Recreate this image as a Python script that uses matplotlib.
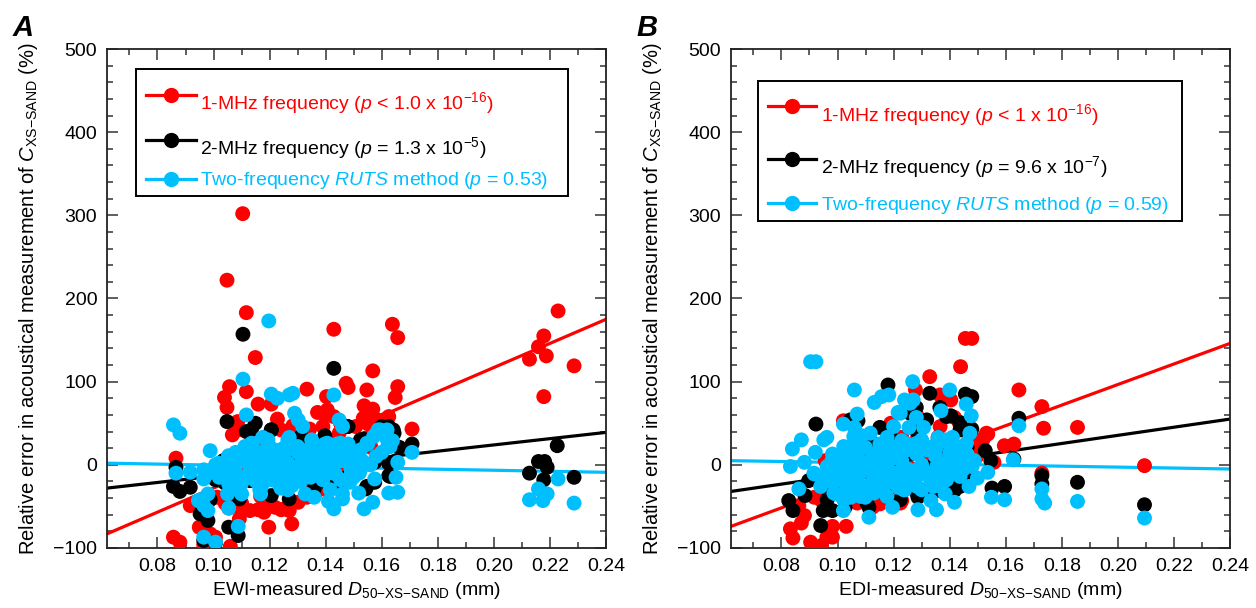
import matplotlib
matplotlib.use('Agg')
import matplotlib.pyplot as plt
from matplotlib.lines import Line2D
from matplotlib.patches import Rectangle
from matplotlib.ticker import MultipleLocator, FixedLocator

plt.rcParams['font.family'] = ['Liberation Sans', 'DejaVu Sans']
plt.rcParams['mathtext.fontset'] = 'custom'
plt.rcParams['mathtext.rm'] = 'Liberation Sans'
plt.rcParams['mathtext.it'] = 'Liberation Sans:italic'
plt.rcParams['mathtext.bf'] = 'Liberation Sans:bold'

#----- panel A : EWI-measured D50 (mm) vs relative error (%)
a_red_d = [0.1048, 0.1104, 0.1117, 0.1149, 0.1429, 0.1638, 0.1657, 0.1568,
           0.2127, 0.2159, 0.2178, 0.2187, 0.2229, 0.2178, 0.2286,
           0.0866, 0.0857, 0.0880, 0.0917, 0.0949, 0.0965, 0.0988, 0.1007, 0.1013,
           0.1060, 0.1054, 0.1092, 0.1098,
           0.1039, 0.1057, 0.1048, 0.1117, 0.1159, 0.1206, 0.1228, 0.1197, 0.1279,
           0.1333, 0.1403, 0.1371, 0.1397, 0.1473, 0.1480, 0.1547, 0.1537, 0.1568,
           0.1534, 0.1575, 0.1657, 0.1648, 0.1625, 0.1708, 0.1343, 0.1283, 0.1390,
           0.1507, 0.1448, 0.1086, 0.1067, 0.1117, 0.1172,
           0.1168, 0.1194, 0.1219, 0.1251, 0.1270, 0.1180, 0.1130, 0.1302, 0.1333,
           0.1346, 0.1384, 0.1435, 0.1486, 0.1549, 0.1600, 0.1606, 0.1562, 0.1524,
           0.1050, 0.1080, 0.1120, 0.1250, 0.1300, 0.1280, 0.1350, 0.1400, 0.1450,
           0.1500, 0.1180, 0.1230,
           0.1088, 0.1241, 0.1406, 0.1453, 0.1547, 0.1100, 0.1159, 0.1241, 0.1041,
           0.1359, 0.1429]
a_red_v = [222, 302, 183, 129, 163, 169, 153, 113,
           127, 142, 155, 131, 185, 82, 119,
           8, -87, -93, -49, -75, -96, -83, -87, -39,
           -98, -52, -65, -54,
           81, 94, 69, 88, 73, 73, 55, -75, -71,
           91, 82, 63, 60, 98, 93, 90, 71, 67,
           56, 56, 94, 81, 58, 43, 43, 47, 46,
           46, 38, 52, 36, 21, 19,
           -38, -49, -51, -53, -55, -57, -55, -45, -39,
           -19, -11, 13, 21, 33, 38, 54, 21, 29,
           -20, -30, -10, -20, -10, 10, 5, -30, -5,
           10, 30, 0,
           42, 42, 66, 50, 50, -46, -54, -54, -46,
           -38, 58]

a_blk_d = [0.1105, 0.1429, 0.2127, 0.2159, 0.2181, 0.2190, 0.2178, 0.2226, 0.2286,
           0.0866, 0.0857, 0.0880, 0.0917, 0.0952, 0.0980, 0.0988, 0.1007, 0.0965,
           0.1007, 0.1054, 0.1088,
           0.1048, 0.1117, 0.1149, 0.1206, 0.1314, 0.1397, 0.1480, 0.1534, 0.1600,
           0.1625, 0.1644, 0.1708, 0.1663, 0.1651, 0.1575, 0.1625, 0.1543, 0.1575,
           0.1473, 0.1448, 0.1410, 0.1359, 0.1270, 0.1206, 0.1092, 0.1035, 0.1270,
           0.1232, 0.1346, 0.1295, 0.1168, 0.1130, 0.1067,
           0.1041, 0.1135, 0.1206, 0.1312, 0.1476, 0.1524, 0.1641, 0.1406, 0.1453,
           0.1547, 0.1630, 0.1624]
a_blk_v = [157, 116, -10, 4, 4, -3, -18, 23, -15,
           -3, -26, -32, -27, -59, -67, -42, -18, -91,
           -94, -75, -85,
           52, 40, 50, 42, 33, 35, 46, 31, 46,
           46, 38, 25, 21, 5, 3, -13, -29, -21,
           -15, -23, -19, -29, -41, -37, -41, 5, 9,
           13, 21, 5, -11, -19, -23,
           -22, 42, 42, 34, 46, 30, 42, -22, -30,
           -26, -14, 2]

a_cyn_d = [0.1197, 0.1429, 0.2127, 0.2159, 0.2178, 0.2190, 0.2175, 0.2229, 0.2286,
           0.0857, 0.0880, 0.0866, 0.0917, 0.0965, 0.0965, 0.0988, 0.1007, 0.0946,
           0.0965, 0.0980, 0.0980, 0.0965, 0.1007, 0.1054, 0.1088,
           0.1105, 0.1117, 0.1206, 0.1228, 0.1270, 0.1283, 0.1289, 0.1302, 0.1318,
           0.1448, 0.1460, 0.1441, 0.1480, 0.1397, 0.1346, 0.1370, 0.1422, 0.1587,
           0.1619, 0.1638, 0.1620, 0.1708, 0.1657, 0.1651, 0.1625, 0.1657, 0.1575,
           0.1568, 0.1537, 0.1518, 0.1460, 0.1460, 0.1429, 0.1410, 0.1416, 0.1359,
           0.1327, 0.1486, 0.1499, 0.1435, 0.1384, 0.1219, 0.1168, 0.1149, 0.1092,
           0.1054, 0.1035, 0.1054, 0.1079, 0.1092, 0.1117, 0.1149, 0.1175, 0.1194,
           0.1232, 0.1251, 0.1270, 0.1302, 0.1270, 0.1244, 0.1346, 0.1397, 0.1346,
           0.1180, 0.1130, 0.1250, 0.1320, 0.1080, 0.1150, 0.1200, 0.1280, 0.1350,
           0.1500, 0.1550, 0.1530, 0.1580, 0.1620,
           0.1053, 0.1076, 0.1100, 0.1124, 0.1147, 0.1171, 0.1194, 0.1218, 0.1241,
           0.1265, 0.1288, 0.1312, 0.1335, 0.1359, 0.1382, 0.1406, 0.1429, 0.1453,
           0.1476, 0.1500, 0.1524, 0.1547, 0.1571, 0.1594, 0.1618, 0.1630, 0.1065,
           0.1100, 0.1135, 0.1171, 0.1206, 0.1241, 0.1276, 0.1300, 0.1347, 0.1406,
           0.1453, 0.1488, 0.1524, 0.1041, 0.1018, 0.0982, 0.0953, 0.1165, 0.1265,
           0.1112, 0.1135, 0.1265, 0.1300, 0.1335, 0.1406,
           0.1080, 0.1120, 0.1180, 0.1210, 0.1240, 0.1280, 0.1310, 0.1340, 0.1370,
           0.1390, 0.1430, 0.1460, 0.1490, 0.1520, 0.1560, 0.1600, 0.1160, 0.1200,
           0.1250, 0.1300, 0.1400, 0.1450, 0.1020, 0.1050, 0.1100]
a_cyn_v = [173, 84, -42, -29, -35, -35, -43, -17, -46,
           48, 38, -10, -9, -6, -17, 17, 0, -43,
           -49, -35, -55, -87, -93, -52, -74,
           103, 60, 85, 80, 84, 86, 62, 54, 46,
           54, 46, 25, 25, 25, 21, 13, 13, 42,
           42, 29, 21, 15, 3, -15, -34, -33, -17,
           -45, -53, -34, -35, -41, -53, -44, -30, -39,
           -35, -21, -15, -11, 5, -19, -35, -19, -27,
           -23, -3, 11, 15, 5, 9, 17, 33, 25,
           13, 13, 33, -3, -15, -19, -3, 5, -15,
           -5, -5, 0, 10, -10, 0, 5, -5, 30,
           15, 25, 5, 10, 30,
           10, 2, 10, 2, -6, 2, 30, 18, 10,
           2, -10, 2, 10, 2, 14, 2, 10, 26,
           18, 10, 18, 26, 34, 42, 34, 22, -18,
           -22, -14, -26, -18, -14, -22, -14, -6, -10,
           -18, -14, -6, -6, 2, -10, -42, -30, -30,
           22, 26, 30, 22, 10, 26,
           -25, -15, -15, -5, -28, -25, -20, -10, -5,
           -18, 0, 5, -5, -10, 0, 15, 10, 20,
           20, 15, 20, 15, -15, -35, -35]

#----- panel B : EDI-measured D50 (mm) vs relative error (%)
b_red_d = [0.1456, 0.1479, 0.1439, 0.1329, 0.1278, 0.1365, 0.1404, 0.1647, 0.1729,
           0.1735, 0.1856, 0.1595, 0.1629, 0.1536, 0.1520, 0.1729, 0.2095, 0.1190,
           0.1021, 0.1281, 0.1417, 0.1436,
           0.0832, 0.0841, 0.0871, 0.0882, 0.0904, 0.0943, 0.0962, 0.0982, 0.0982,
           0.1031, 0.0862, 0.0917, 0.0956, 0.1060, 0.1125, 0.1151, 0.1229, 0.1177,
           0.1294, 0.1359, 0.1417, 0.1494, 0.1558, 0.1519, 0.1481, 0.1442, 0.1359,
           0.1281, 0.1229, 0.1177, 0.1125, 0.1099, 0.1034, 0.1060, 0.0995, 0.1151,
           0.1255, 0.1332,
           0.1022, 0.1283, 0.1366, 0.1437, 0.1496, 0.1531, 0.1070, 0.1141, 0.1224,
           0.0940, 0.1449, 0.1496]
b_red_v = [152, 152, 118, 106, 90, 84, 78, 90, 70,
           44, 45, 23, 25, 37, 31, -10, -1, 50,
           53, 61, 57, 49,
           -77, -88, -70, -61, -93, -97, -87, -87, -74,
           -74, -49, -39, 5, -39, -51, -47, -43, -23,
           -35, -31, -19, 9, 3, 17, 21, 5, -3,
           29, 33, 21, 25, -3, -11, -19, -27, -19,
           -3, 13,
           50, 42, 46, 50, 30, 38, -46, -42, -46,
           -42, -2, 10]

b_blk_d = [0.1180, 0.1329, 0.1456, 0.1479, 0.1365, 0.1404, 0.1436, 0.1281, 0.1479,
           0.1647, 0.0923, 0.1073, 0.1151, 0.1131, 0.1187, 0.1527, 0.1547, 0.1465,
           0.1551, 0.1596, 0.1629, 0.1729, 0.1729, 0.1856, 0.2095,
           0.0826, 0.0841, 0.0884, 0.0897, 0.0949, 0.0982, 0.0940, 0.1027, 0.1112,
           0.1177, 0.1287, 0.1345, 0.1391, 0.1417, 0.1436, 0.1229, 0.1047, 0.1099,
           0.1255, 0.1332, 0.1384, 0.1462, 0.1281, 0.1359, 0.0995, 0.0969, 0.1125,
           0.1046, 0.0963, 0.1046, 0.1105, 0.1224, 0.1283, 0.1342, 0.1437, 0.1472,
           0.1176, 0.1259, 0.1318, 0.1389, 0.1437]
b_blk_v = [96, 86, 85, 82, 69, 59, 51, 69, 43,
           56, 49, 53, 45, 25, 35, 17, 5, -13,
           -28, -26, 7, -13, -23, -21, -48,
           -43, -55, -37, -19, -55, -55, -73, -51, -51,
           -35, -39, -31, -19, -31, -11, -19, -3, 9,
           13, -3, 13, 21, 41, 33, -7, -27, -19,
           54, -42, -38, -46, -42, -34, -30, -26, -10,
           30, 62, 54, 58, 42]

b_cyn_d = [0.0904, 0.0923, 0.1060, 0.1268, 0.1400, 0.1131, 0.1157, 0.1183, 0.1239,
           0.1270, 0.1070, 0.1021, 0.1216, 0.1281, 0.1369, 0.1459, 0.1477, 0.1647,
           0.1627,
           0.0839, 0.0871, 0.0832, 0.0882, 0.0921, 0.0962, 0.0982, 0.0862, 0.0917,
           0.1549, 0.1596, 0.1536, 0.1499, 0.1469, 0.1729, 0.1729, 0.1739, 0.1856,
           0.2095,
           0.1021, 0.1112, 0.1196, 0.1287, 0.1353, 0.1333, 0.1417, 0.1384,
           0.1060, 0.1086, 0.1047,
           0.1125, 0.1151, 0.1177, 0.1229, 0.1281, 0.1332, 0.1359, 0.1384, 0.1410,
           0.1436, 0.1462, 0.1488, 0.1229, 0.1203, 0.1177, 0.1255, 0.1307, 0.1164,
           0.1216, 0.1255, 0.1294, 0.1332, 0.1359, 0.1125, 0.1073, 0.1021, 0.0995,
           0.0969, 0.1047, 0.1099, 0.0943, 0.1125, 0.1073, 0.1021, 0.1099, 0.1151,
           0.1371, 0.1200, 0.1250, 0.1300, 0.1350, 0.1400, 0.1450, 0.1180, 0.1080,
           0.0963, 0.0999, 0.1034, 0.1070, 0.1105, 0.1141, 0.1176, 0.1212, 0.1247,
           0.1283, 0.1318, 0.1354, 0.1389, 0.1425, 0.1460, 0.0999, 0.1034, 0.1070,
           0.1105, 0.1141, 0.1176, 0.1212, 0.1247, 0.1283, 0.1318, 0.1354, 0.1389,
           0.1425, 0.0987, 0.1022, 0.1082, 0.1129, 0.1176, 0.1236, 0.1283, 0.1342,
           0.1389, 0.1437, 0.0940, 0.0916, 0.1058, 0.1117, 0.1200, 0.1224, 0.1259,
           0.1082, 0.1022, 0.0951, 0.1472, 0.1460, 0.1437,
           0.1000, 0.1040, 0.1080, 0.1130, 0.1170, 0.1200, 0.1240, 0.1280, 0.1320,
           0.1360, 0.1400, 0.1440, 0.1480, 0.1150, 0.1200, 0.1250, 0.1300, 0.1350,
           0.1400, 0.1450, 0.1050, 0.1100, 0.1150, 0.1300, 0.1350, 0.0980, 0.1030,
           0.1080]
b_cyn_v = [124, 124, 90, 100, 90, 75, 82, 84, 78,
           78, 61, 49, 63, 57, 65, 73, 59, 47,
           6,
           19, 30, -2, 3, 15, 33, 13, -29, -11,
           -39, -42, -9, -16, -26, -29, -41, -46, -44,
           -64,
           -55, -63, -51, -54, -54, -43, -45, -35,
           45, 35, 21,
           13, 5, -3, 5, 13, 21, 33, 29, 33,
           21, 13, 5, 29, 21, 33, 45, 45, -19,
           -27, -19, -11, -19, -3, -19, -27, -19, -35,
           -19, -39, -39, -15, -3, -3, -3, 21, 25,
           -23, -10, -5, 0, 10, 5, -5, 10, 5,
           -2, 6, -2, 10, 2, 10, 18, 10, 18,
           26, 18, 26, 30, 22, 26, -18, -26, -18,
           -26, -14, -22, -10, -18, -6, -10, -2, 2,
           6, -34, -42, -38, -34, -38, -30, -26, -26,
           -18, -14, -26, -10, 34, 38, 46, 62, 74,
           22, 22, 30, 38, 10, -2,
           -10, -10, -10, -10, -12, -20, -30, -15, -10,
           -12, -10, -5, -2, 15, 15, 25, 30, 20,
           15, 15, -30, -30, -28, -30, -25, 5, 10,
           20]

# regression lines, value at left edge / right edge of the x range
x_lo, x_hi = 0.062, 0.24
a_fit_lo = [-83, -28, 2]
a_fit_hi = [175, 39, -9]
b_fit_lo = [-74, -32, 5]
b_fit_hi = [146, 55, -5]

a_labels = [r'1-MHz frequency ($\it{p}$ < 1.0 x 10$^{-16}$)',
            r'2-MHz frequency ($\it{p}$ = 1.3 x 10$^{-5}$)',
            r'Two-frequency $\it{RUTS}$ method ($\it{p}$ = 0.53)']
b_labels = [r'1-MHz frequency ($\it{p}$ < 1 x 10$^{-16}$)',
            r'2-MHz frequency ($\it{p}$ = 9.6 x 10$^{-7}$)',
            r'Two-frequency $\it{RUTS}$ method ($\it{p}$ = 0.59)']

colors = ['#ff0000', '#000000', '#00bfff']


def key_box(ax, labels, box, y_line, y_text, hx, tx):
    # hand-placed legend box (axes fraction)
    ax.add_patch(Rectangle((box[0], box[1]), box[2] - box[0], box[3] - box[1],
                           transform=ax.transAxes, facecolor='white',
                           edgecolor='black', lw=1.4, zorder=5))
    for c, lab, yl, yt in zip(colors, labels, y_line, y_text):
        ax.add_line(Line2D([hx[0], hx[1], hx[2]], [yl, yl, yl],
                           transform=ax.transAxes, color=c, lw=2.3,
                           marker='o', markevery=[1], markersize=10, zorder=6))
        ax.text(tx, yt, lab, transform=ax.transAxes, color=c, fontsize=14,
                va='baseline', ha='left', zorder=7)


def panel(ax, series, fit_lo, fit_hi, xname, letter):
    for c, lo, hi in zip(colors, fit_lo, fit_hi):
        ax.plot([x_lo, x_hi], [lo, hi], color=c, lw=2.3, zorder=2)
    for c, (d, v) in zip(colors, series):
        ax.scatter(d, v, s=115, color=c, edgecolors='none', zorder=3)

    ax.set_xlim(x_lo, x_hi)
    ax.set_ylim(-100, 500)
    ax.xaxis.set_major_locator(FixedLocator([0.08, 0.10, 0.12, 0.14, 0.16,
                                             0.18, 0.20, 0.22, 0.24]))
    ax.xaxis.set_minor_locator(MultipleLocator(0.01))
    ax.yaxis.set_major_locator(MultipleLocator(100))
    ax.yaxis.set_minor_locator(MultipleLocator(20))
    ax.set_xticklabels(['0.08', '0.10', '0.12', '0.14', '0.16', '0.18',
                        '0.20', '0.22', '0.24'])
    ax.tick_params(which='both', direction='in', top=True, right=True,
                   labelsize=14, width=1.1, color='#333333')
    ax.tick_params(which='major', length=8, pad=7)
    ax.tick_params(which='minor', length=4.5)
    for s in ax.spines.values():
        s.set_linewidth(1.3)
        s.set_color('#222222')

    ax.set_ylabel(r'Relative error in acoustical measurement of '
                  r'$\it{C}_{\mathrm{XS{-}SAND}}$ (%)', fontsize=14.5)
    ax.yaxis.set_label_coords(-0.135, 0.5)
    ax.set_xlabel(xname + r' $\it{D}_{\mathrm{50{-}XS{-}SAND}}$ (mm)', fontsize=14)
    ax.text(-0.19, 1.015, letter, transform=ax.transAxes, fontsize=21,
            fontweight='bold', fontstyle='italic', va='bottom', ha='left')


fig = plt.figure(figsize=(12.56, 6.08), dpi=100)
ax1 = fig.add_axes([0.0852, 0.0987, 0.3973, 0.8207])
ax2 = fig.add_axes([0.5820, 0.0987, 0.3973, 0.8207])

panel(ax1, [(a_red_d, a_red_v), (a_blk_d, a_blk_v), (a_cyn_d, a_cyn_v)],
      a_fit_lo, a_fit_hi, 'EWI-measured', 'A')
key_box(ax1, a_labels, (0.058, 0.705, 0.924, 0.960),
        (0.908, 0.818, 0.739), (0.880, 0.790, 0.727), (0.078, 0.128, 0.178), 0.186)

panel(ax2, [(b_red_d, b_red_v), (b_blk_d, b_blk_v), (b_cyn_d, b_cyn_v)],
      b_fit_lo, b_fit_hi, 'EDI-measured', 'B')
key_box(ax2, b_labels, (0.054, 0.655, 0.904, 0.936),
        (0.886, 0.780, 0.691), (0.856, 0.751, 0.677), (0.074, 0.122, 0.170), 0.180)

fig.savefig('out.png', dpi=100)
